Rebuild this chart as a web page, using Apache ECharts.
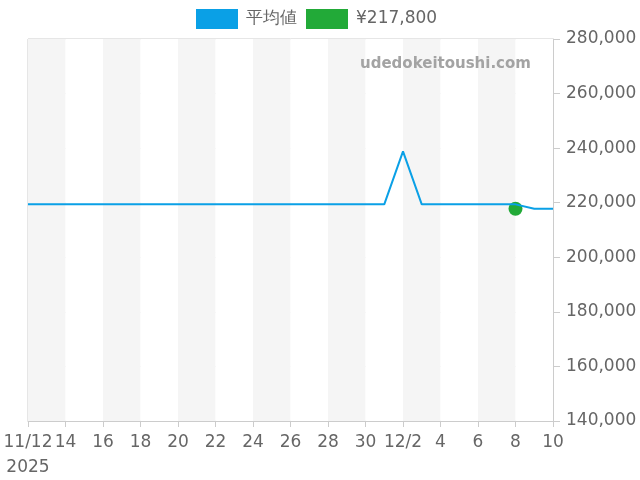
<!DOCTYPE html>
<html>
<head>
    <meta charset="utf-8">
    <script src="https://cdn.jsdelivr.net/npm/echarts@6/dist/echarts.min.js"></script>
</head>
<body style="margin:0">
    <div id="main" style="width: 640px;height:480px;"></div>
    <script type="text/javascript">
        // 日付 (11/12 - 12/10)
        var dates = ['11/12', '13', '14', '15', '16', '17', '18', '19', '20', '21', '22', '23', '24', '25', '26', '27', '28', '29', '30',
            '12/1', '12/2', '3', '4', '5', '6', '7', '8', '9', '10'];
        // 平均値
        var avgValues = [219400, 219400, 219400, 219400, 219400, 219400, 219400, 219400, 219400, 219400, 219400, 219400, 219400, 219400, 219400,
            219400, 219400, 219400, 219400, 219400, 238800, 219400, 219400, 219400, 219400, 219400, 219400, 217800, 217800];
        var priceLabel = '¥217,800';
        var priceDate = '8';
        var priceValue = 217800;

        var myChart = echarts.init(document.getElementById('main'));
        var option = {
            textStyle: { fontFamily: 'DejaVu Sans' },
            animation: false,
            legend: {
                top: 4,
                left: 191,
                itemWidth: 42,
                itemHeight: 20,
                itemGap: 9,
                textStyle: { fontSize: 17, color: '#666', padding: [0, 0, 0, 3] },
                data: [{ name: '平均値', icon: 'rect' }, { name: priceLabel, icon: 'rect' }]
            },
            graphic: [{
                type: 'text',
                left: 360,
                top: 57,
                z: 100,
                style: { text: 'udedokeitoushi.com', fill: '#a3a3a3', fontSize: 15, fontWeight: 'bold', fontFamily: 'DejaVu Sans' }
            }],
            grid: {
                left: 28, right: 87, top: 39, bottom: 57,
                show: true, borderColor: '#ccc', borderWidth: 1
            },
            xAxis: {
                type: 'category',
                boundaryGap: false,
                data: dates,
                axisLine: { lineStyle: { color: '#ccc' } },
                axisTick: { interval: 1, length: 6, lineStyle: { color: '#ccc' } },
                axisLabel: {
                    interval: 1, fontSize: 17, color: '#666', margin: 9, lineHeight: 25,
                    verticalAlign: 'top',
                    formatter: function (v, i) { return i === 0 ? v + '\n2025' : v; }
                },
                splitLine: { show: false },
                splitArea: { show: true, interval: 1, areaStyle: { color: ['#f5f5f5', '#fff'] } }
            },
            yAxis: {
                type: 'value',
                position: 'right',
                min: 140000, max: 280000, interval: 20000,
                axisLine: { show: true, lineStyle: { color: '#ccc' } },
                axisTick: { show: true, length: 7, lineStyle: { color: '#ccc' } },
                axisLabel: {
                    fontSize: 17, color: '#666', margin: 13,
                    formatter: function (v) { return v.toLocaleString('en-US'); }
                },
                splitLine: { lineStyle: { color: '#e8e8e8' } }
            },
            series: [{
                name: '平均値',
                type: 'line',
                data: avgValues,
                symbol: 'none',
                itemStyle: { color: '#0aa0e6' },
                lineStyle: { color: '#0aa0e6', width: 2 }
            }, {
                name: priceLabel,
                type: 'scatter',
                data: [[priceDate, priceValue]],
                symbolSize: 14,
                itemStyle: { color: '#22aa38', opacity: 1 }
            }]
        };
        myChart.setOption(option);
    </script>
</body>
</html>
